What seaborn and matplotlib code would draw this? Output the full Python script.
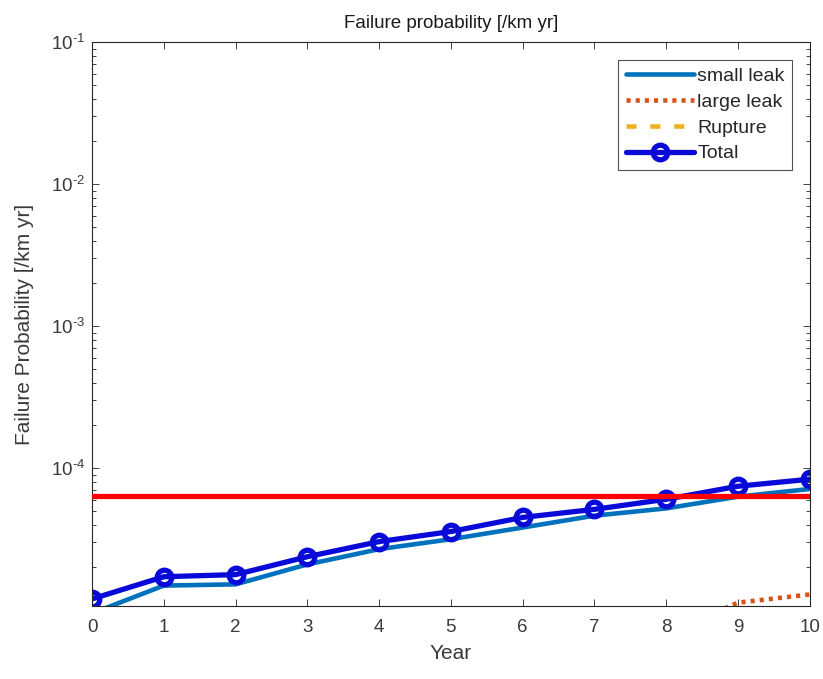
import numpy as np
import pandas as pd
import matplotlib
matplotlib.use("Agg")
import matplotlib.pyplot as plt
import matplotlib.ticker as mticker
import seaborn as sns

years = [0, 1, 2, 3, 4, 5, 6, 7, 8, 9, 10]
small_leak = [9.5e-6, 1.49e-5, 1.52e-5, 2.10e-5, 2.69e-5, 3.16e-5, 3.82e-5, 4.63e-5, 5.21e-5, 6.30e-5, 7.14e-5]
large_leak = [2.0e-6, 2.3e-6, 2.6e-6, 2.9e-6, 3.5e-6, 4.2e-6, 5.0e-6, 5.9e-6, 6.9e-6, 1.13e-5, 1.29e-5]
rupture = [1.0e-7, 1.1e-7, 1.2e-7, 1.3e-7, 1.5e-7, 1.7e-7, 1.9e-7, 2.1e-7, 2.4e-7, 2.7e-7, 3.0e-7]
total = [1.20e-5, 1.72e-5, 1.78e-5, 2.38e-5, 3.04e-5, 3.58e-5, 4.50e-5, 5.13e-5, 6.04e-5, 7.46e-5, 8.36e-5]
threshold = 6.4e-5

sns.set_style("ticks")
plt.rcParams['font.family'] = ['Liberation Sans', 'DejaVu Sans']
plt.rcParams['mathtext.fontset'] = 'custom'
plt.rcParams['mathtext.rm'] = 'Liberation Sans'
plt.rcParams['mathtext.it'] = 'Liberation Sans'
plt.rcParams['mathtext.default'] = 'rm'
plt.rcParams['axes.unicode_minus'] = False

df = pd.DataFrame({"Year": years, "small leak": small_leak, "large leak": large_leak,
                   "Rupture": rupture, "Total": total})

fig = plt.figure(figsize=(8.23, 6.79), dpi=100)
ax = fig.add_axes([0.1118, 0.1075, 0.8722, 0.8305])

blue = "#0A0AD8"
sns.lineplot(data=df, x="Year", y="small leak", ax=ax, color="#0072BD", linewidth=3.3, label="small leak")
sns.lineplot(data=df, x="Year", y="large leak", ax=ax, color="#D95319", linewidth=3.3, label="large leak")
sns.lineplot(data=df, x="Year", y="Rupture", ax=ax, color="#EDB120", linewidth=3.3, label="Rupture")
sns.lineplot(data=df, x="Year", y="Total", ax=ax, color=blue, linewidth=3.8, label="Total",
             marker="o", markersize=10.5, markerfacecolor="none", markeredgecolor=blue,
             markeredgewidth=3.8)
lines = ax.get_lines()
lines[1].set_linestyle((0, (0.9, 1.1)))
lines[2].set_linestyle((0, (2.2, 3.0)))
ax.axhline(threshold, color="#FF0000", linewidth=3.8, zorder=5)

ax.set_yscale("log")
ax.set_xlim(0, 10)
ax.set_ylim(1.07e-5, 1e-1)
ax.set_xticks(years)


def log_fmt(v, pos):
    e = int(round(np.log10(v)))
    return r"$10^{\text{%d}}$" % e


ax.yaxis.set_major_formatter(mticker.FuncFormatter(log_fmt))
ax.tick_params(which="both", direction="in", top=True, right=True, colors="#262626",
               labelcolor="#3a3a3a")
ax.tick_params(axis="x", labelsize=13.5, pad=9)
ax.tick_params(axis="y", labelsize=13.5, pad=5)
ax.tick_params(which="major", length=5, width=0.6)
ax.tick_params(which="minor", length=3, width=0.6)
for s in ax.spines.values():
    s.set_linewidth(0.8)
    s.set_color("#262626")

ax.set_xlabel("Year", fontsize=15, color="#3a3a3a", labelpad=6)
ax.set_ylabel("Failure Probability [/km yr]", fontsize=15, color="#3a3a3a", labelpad=12)
ax.set_title("Failure probability [/km yr]", fontsize=13.5, color="#1a1a1a", pad=10)

leg = ax.legend(loc="upper right", fontsize=14, frameon=True, fancybox=False,
                handlelength=3.5, handletextpad=0.15, borderpad=0.4, labelspacing=0.42,
                borderaxespad=0.9)
leg.get_frame().set_edgecolor("#262626")
leg.get_frame().set_linewidth(0.8)

fig.savefig("out.png", dpi=100)
